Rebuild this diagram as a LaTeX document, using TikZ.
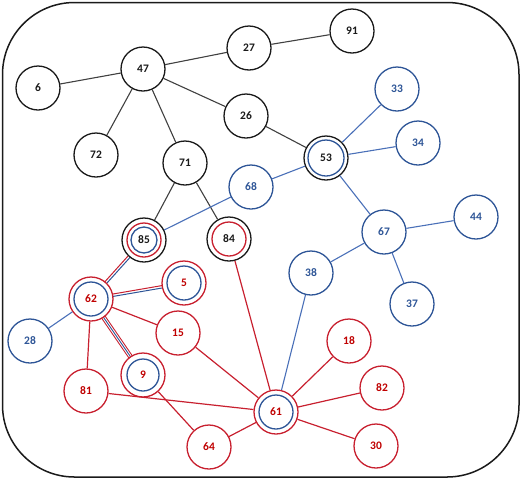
\documentclass[tikz,border=0pt]{standalone}
\usepackage{fontspec}
\setmainfont{Carlito}
\usetikzlibrary{calc}
\definecolor{nblack}{HTML}{1A1A1A}
\definecolor{eblack}{HTML}{404040}
\definecolor{nblue}{HTML}{2E5597}
\definecolor{eblue}{HTML}{4A70B8}
\definecolor{nred}{HTML}{C8202F}
\definecolor{tred}{HTML}{C00000}
\tikzset{
  base/.style={circle, minimum size=44pt, inner sep=0pt, line width=1.3pt, fill=white,
    font=\bfseries\fontsize{11.5}{13}\selectfont},
  bk/.style={base, draw=nblack, text=nblack},
  bl/.style={base, draw=nblue, text=nblue},
  rd/.style={base, draw=nred, text=tred},
  inblue/.style={path picture={\draw[nblue, line width=1.3pt] (path picture bounding box.center) circle (#1);}},
  inredblue/.style={path picture={
      \draw[nred, line width=1.3pt] (path picture bounding box.center) circle (17pt);
      \draw[nblue, line width=1.3pt] (path picture bounding box.center) circle (13pt);}},
  inred/.style={path picture={\draw[nred, line width=1.3pt] (path picture bounding box.center) circle (#1);}},
  ke/.style={draw=eblack, line width=1.1pt},
  be/.style={draw=eblue, line width=1.1pt},
  re/.style={draw=nred, line width=1.2pt},
  dre/.style={draw=nred, line width=1pt},
  dbe/.style={draw=nblue, line width=1pt},
}
\begin{document}
\begin{tikzpicture}[x=1pt,y=-1pt]
\useasboundingbox (0,0) rectangle (529,480);
\draw[line width=1.5pt, nblack, rounded corners=72pt] (2.5,2.5) rectangle (519,477);

% node positions
\coordinate (p62) at (91,299);
\coordinate (p85) at (144,240);
\coordinate (p5) at (184,283);
\coordinate (p9) at (143,375);

% double connectors (drawn under the white-filled nodes)
\draw[dre] ($(p62)!1.2pt!90:(p85)$) -- ($(p85)!1.2pt!-90:(p62)$);
\draw[dbe] ($(p62)!1.2pt!-90:(p85)$) -- ($(p85)!1.2pt!90:(p62)$);
\draw[dre] ($(p62)!1.2pt!90:(p5)$) -- ($(p5)!1.2pt!-90:(p62)$);
\draw[dbe] ($(p62)!1.2pt!-90:(p5)$) -- ($(p5)!1.2pt!90:(p62)$);
\draw[dre, line width=0.9pt] ($(p62)!2pt!90:(p9)$) -- ($(p9)!2pt!-90:(p62)$);
\draw[dbe, line width=0.9pt] (p62) -- (p9);
\draw[dre, line width=0.9pt] ($(p62)!2pt!-90:(p9)$) -- ($(p9)!2pt!90:(p62)$);

% black nodes
\node[bk] (n91) at (352,31) {91};
\node[bk] (n27) at (249,48) {27};
\node[bk] (n47) at (143,69) {47};
\node[bk] (n6) at (38,88) {6};
\node[bk] (n26) at (246,116) {26};
\node[bk] (n72) at (96,155) {72};
\node[bk] (n71) at (185,163) {71};
\node[bk, inblue=18pt] (n53) at (326,158) {53};
\node[bk, inredblue] (n85) at (p85) {85};
\node[bk, inred=17pt] (n84) at (229,239) {84};
% blue nodes
\node[bl] (n33) at (397,89) {33};
\node[bl] (n34) at (418,143) {34};
\node[bl] (n68) at (251,187) {68};
\node[bl] (n67) at (384,232) {67};
\node[bl] (n44) at (476,217) {44};
\node[bl] (n38) at (311,273) {38};
\node[bl] (n37) at (412,304) {37};
\node[bl] (n28) at (30,341) {28};
% red nodes
\node[rd, inblue=17pt] (n5) at (p5) {5};
\node[rd, inblue=17pt] (n62) at (p62) {62};
\node[rd, inblue=16pt] (n9) at (p9) {9};
\node[rd, inblue=17pt] (n61) at (276,412) {61};
\node[rd] (n15) at (178,333) {15};
\node[rd] (n18) at (349,341) {18};
\node[rd] (n82) at (382,388) {82};
\node[rd] (n81) at (86,391) {81};
\node[rd] (n64) at (209,447) {64};
\node[rd] (n30) at (376,446) {30};

% black connectors
\draw[ke] (n91) -- (n27);
\draw[ke] (n27) -- (n47);
\draw[ke] (n47) -- (n6);
\draw[ke] (n47) -- (n26);
\draw[ke] (n47) -- (n72);
\draw[ke] (n47) -- (n71);
\draw[ke] (n26) -- (n53);
\draw[ke] (n71) -- (n85);
\draw[ke] (n71) -- (n84);
% blue connectors
\draw[be] (n53) -- (n33);
\draw[be] (n53) -- (n34);
\draw[be] (n53) -- (n68);
\draw[be] (n68) -- (n85);
\draw[be] (n53) -- (n67);
\draw[be] (n67) -- (n44);
\draw[be] (n67) -- (n37);
\draw[be] (n67) -- (n38);
\draw[be] (n38) -- (n61);
\draw[be] (n62) -- (n28);
% red connectors
\draw[re] (n84) -- (n61);
\draw[re] (n62) -- (n15);
\draw[re] (n62) -- (n81);
\draw[re] (n81) -- (n61);
\draw[re] (n15) -- (n61);
\draw[re] (n9) -- (n64);
\draw[re] (n64) -- (n61);
\draw[re] (n61) -- (n18);
\draw[re] (n61) -- (n82);
\draw[re] (n61) -- (n30);
\end{tikzpicture}
\end{document}
